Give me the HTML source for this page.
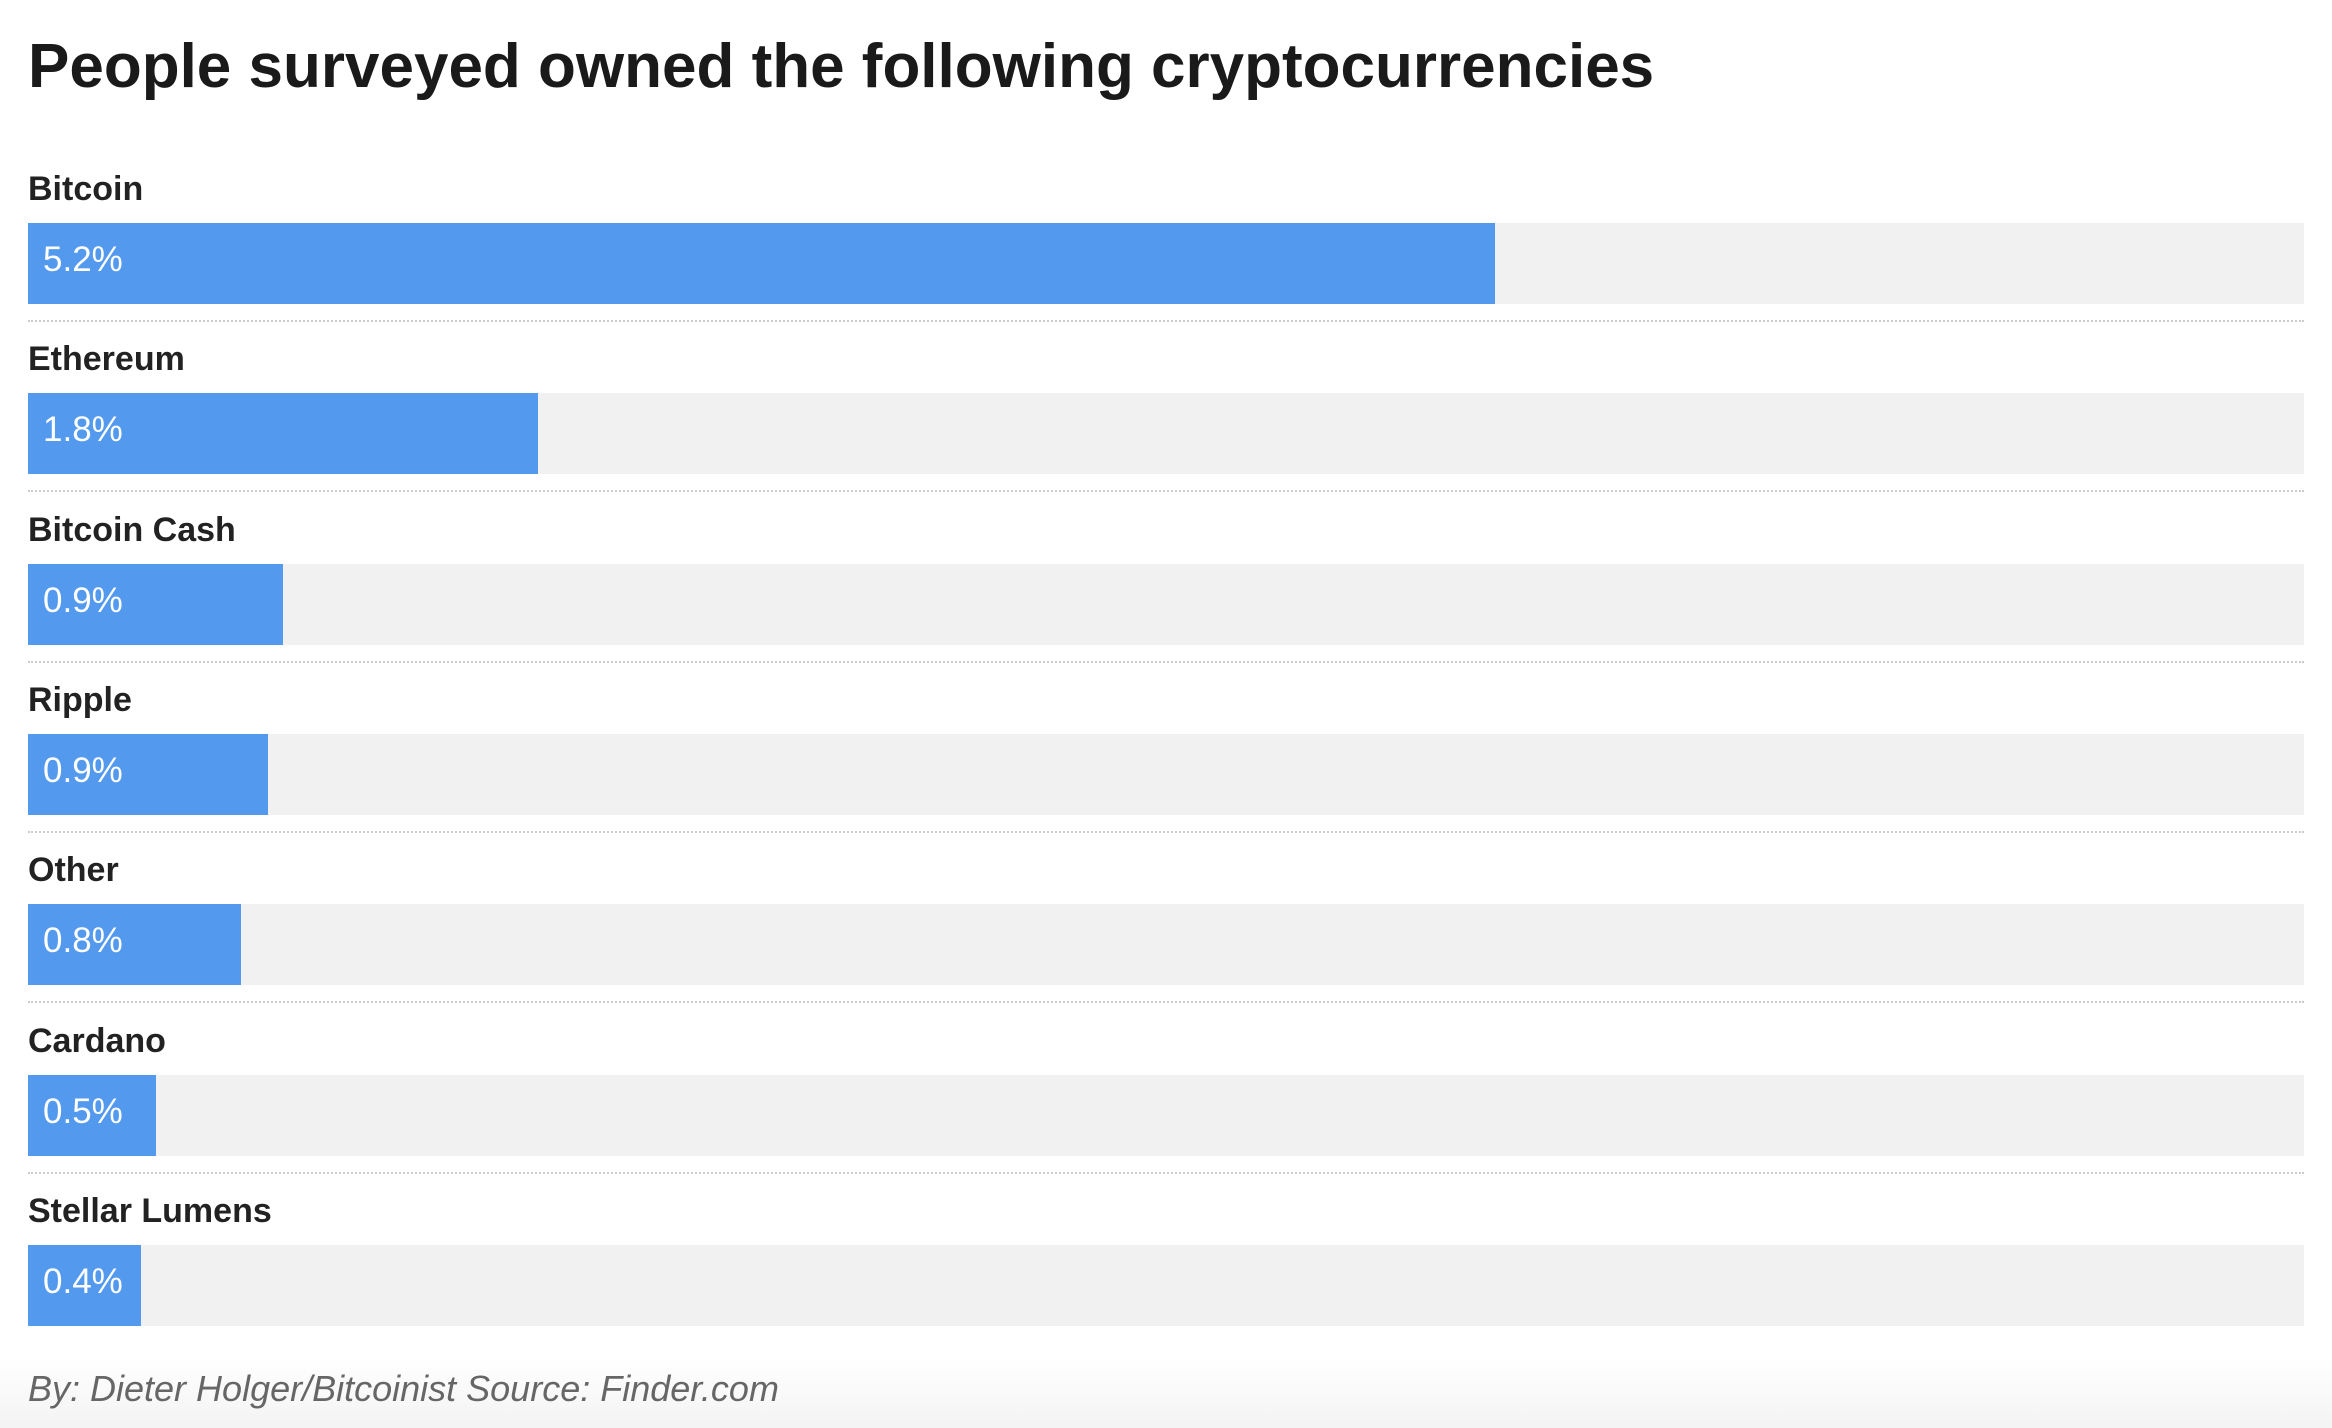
<!DOCTYPE html>
<html><head><meta charset="utf-8"><style>
body{margin:0;width:2332px;height:1428px;background:#fff;position:relative;overflow:hidden;font-family:"Liberation Sans",Arial,sans-serif;}
.t{position:absolute;left:28px;top:31px;font-size:62px;color:#1a1a1a;font-weight:bold;letter-spacing:0px}
.l{position:absolute;left:28px;font-size:34px;font-weight:bold;color:#222;line-height:40px}
.tr{position:absolute;left:28px;width:2276px;height:81px;background:#f1f1f1}
.b{position:absolute;left:0;top:0;height:81px;background:#5399ee;color:#fff;font-size:35px;line-height:74px;text-indent:15px;white-space:nowrap}
.d{position:absolute;left:28px;width:2276px;border-top:2px dotted #ccc}
.f{position:absolute;left:28px;top:1368px;font-size:36px;font-style:italic;color:#666}
.g{position:absolute;left:0;right:0;bottom:0;height:70px;background:linear-gradient(#fff,#f3f3f3)}
</style></head><body>
<div class="g"></div>
<div class="t">People surveyed owned the following cryptocurrencies</div>

<div class="l" style="top:169px">Bitcoin</div>
<div class="tr" style="top:223px"><div class="b" style="width:1467px">5.2%</div></div>
<div class="d" style="top:320px"></div>

<div class="l" style="top:339px">Ethereum</div>
<div class="tr" style="top:393px"><div class="b" style="width:510px">1.8%</div></div>
<div class="d" style="top:490px"></div>

<div class="l" style="top:510px">Bitcoin Cash</div>
<div class="tr" style="top:564px"><div class="b" style="width:255px">0.9%</div></div>
<div class="d" style="top:661px"></div>

<div class="l" style="top:680px">Ripple</div>
<div class="tr" style="top:734px"><div class="b" style="width:240px">0.9%</div></div>
<div class="d" style="top:831px"></div>

<div class="l" style="top:850px">Other</div>
<div class="tr" style="top:904px"><div class="b" style="width:213px">0.8%</div></div>
<div class="d" style="top:1001px"></div>

<div class="l" style="top:1021px">Cardano</div>
<div class="tr" style="top:1075px"><div class="b" style="width:128px">0.5%</div></div>
<div class="d" style="top:1172px"></div>

<div class="l" style="top:1191px">Stellar Lumens</div>
<div class="tr" style="top:1245px"><div class="b" style="width:113px">0.4%</div></div>

<div class="f">By: Dieter Holger/Bitcoinist Source: Finder.com</div>
</body></html>
